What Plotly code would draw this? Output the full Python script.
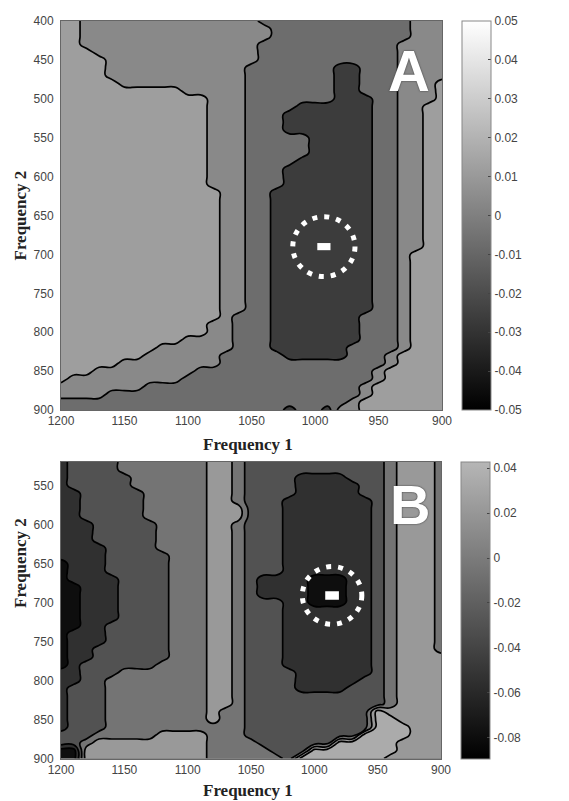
import plotly.graph_objects as go

# ---------------- data ----------------
freq1 = [1200, 1190, 1180, 1170, 1160, 1150, 1140, 1130, 1120, 1110, 1100,
         1090, 1080, 1070, 1060, 1050, 1040, 1030, 1020, 1010, 1000,
         990, 980, 970, 960, 950, 940, 930, 920, 910, 900]

freq2_a = [400, 410, 420, 430, 440, 450, 460, 470, 480, 490, 500,
           510, 520, 530, 540, 550, 560, 570, 580, 590, 600,
           610, 620, 630, 640, 650, 660, 670, 680, 690, 700,
           710, 720, 730, 740, 750, 760, 770, 780, 790, 800,
           810, 820, 830, 840, 850, 860, 870, 880, 890, 900]

freq2_b = [520, 530, 540, 550, 560, 570, 580, 590, 600, 610,
           620, 630, 640, 650, 660, 670, 680, 690, 700, 710,
           720, 730, 740, 750, 760, 770, 780, 790, 800, 810,
           820, 830, 840, 850, 860, 870, 880, 890, 900]

# value of each contour band (panel A) and run-length rows of bands
levels_a = {"D": -0.02, "M": -0.01, "B": 0.0, "L": 0.01}
rows_a = [
    "2L 14B 12M 3B", "2L 15B 11M 3B", "2L 15B 11M 3B", "2L 14B 11M 4B",
    "3L 13B 11M 4B", "4L 12B 11M 4B",
    "4L 11B 7M 2D 3M 4B", "4L 11B 7M 2D 3M 4B",
    "5L 10B 7M 2D 3M 3B 1L", "10L 5B 7M 2D 3M 3B 1L",
    "12L 3B 7M 3D 2M 3B 1L", "12L 3B 4M 6D 2M 2B 2L",
    "12L 3B 3M 7D 2M 2B 2L", "12L 3B 3M 7D 2M 2B 2L", "12L 3B 3M 7D 2M 2B 2L",
    "12L 3B 5M 5D 2M 2B 2L", "12L 3B 5M 5D 2M 2B 2L", "12L 3B 5M 5D 2M 2B 2L",
    "12L 3B 4M 6D 2M 2B 2L",
    "12L 3B 3M 7D 2M 2B 2L", "12L 3B 3M 7D 2M 2B 2L", "12L 3B 3M 7D 2M 2B 2L",
    "13L 2B 2M 8D 2M 2B 2L", "13L 2B 2M 8D 2M 2B 2L", "13L 2B 2M 8D 2M 2B 2L",
    "13L 2B 2M 8D 2M 2B 2L", "13L 2B 2M 8D 2M 2B 2L", "13L 2B 2M 8D 2M 2B 2L",
    "13L 2B 2M 8D 2M 2B 2L", "13L 2B 2M 8D 2M 2B 2L",
    "13L 2B 2M 8D 2M 1B 3L", "13L 2B 2M 8D 2M 1B 3L", "13L 2B 2M 8D 2M 1B 3L",
    "13L 2B 2M 8D 2M 1B 3L", "13L 2B 2M 8D 2M 1B 3L", "13L 2B 2M 8D 2M 1B 3L",
    "13L 2B 2M 8D 2M 1B 3L", "13L 2B 2M 8D 2M 1B 3L",
    "13L 1B 3M 7D 3M 1B 3L",
    "12L 2B 3M 7D 3M 1B 3L", "12L 2B 3M 7D 3M 1B 3L",
    "10L 4B 3M 7D 3M 1B 3L",
    "8L 6B 3M 6D 4M 1B 3L",
    "7L 6B 5M 5D 3M 1B 4L",
    "5L 8B 13M 1B 4L",
    "3L 8B 14M 1B 5L",
    "1L 9B 15M 1B 5L",
    "7B 17M 1B 6L",
    "4B 20M 1B 6L",
    "23M 1B 7L",
    "18M 1D 2M 1D 2B 7L",
]

levels_b = {"K": -0.08, "D": -0.06, "M": -0.04, "N": -0.02, "L": 0.0, "W": 0.02}
rows_b = [
    "1D 4M 7N 2L 1N 11M 1N 3L 1N",
    "1D 4M 7N 2L 1N 11M 1N 3L 1N",
    "1D 5M 6N 2L 1N 4M 4D 3M 1N 3L 1N",
    "1D 5M 6N 2L 1N 4M 5D 2M 1N 3L 1N",
    "2D 5M 5N 2L 1N 4M 5D 2M 1N 3L 1N",
    "2D 5M 5N 2L 1N 3M 7D 1M 1N 3L 1N",
    "2D 5M 5N 3L 3M 7D 1M 1N 3L 1N",
    "2D 5M 5N 3L 3M 7D 1M 1N 3L 1N",
    "3D 5M 4N 2L 1N 3M 7D 1M 1N 3L 1N",
    "3D 5M 4N 2L 1N 3M 7D 1M 1N 3L 1N",
    "3D 5M 4N 2L 1N 3M 7D 1M 1N 3L 1N",
    "4D 4M 4N 2L 1N 3M 7D 1M 1N 3L 1N",
    "4D 5M 3N 2L 1N 3M 7D 1M 1N 3L 1N",
    "1K 3D 5M 3N 2L 1N 3M 7D 1M 1N 3L 1N",
    "1K 3D 5M 3N 2L 1N 3M 7D 1M 1N 3L 1N",
    "1K 4D 4M 3N 2L 1N 1M 4D 3K 2D 1M 1N 3L 1N",
    "2K 3D 4M 3N 2L 1N 1M 4D 3K 2D 1M 1N 3L 1N",
    "2K 3D 4M 3N 2L 1N 1M 4D 3K 2D 1M 1N 3L 1N",
    "2K 3D 4M 3N 2L 1N 3M 2D 3K 2D 1M 1N 3L 1N",
    "2K 3D 4M 3N 2L 1N 3M 7D 1M 1N 3L 1N",
    "2K 3D 4M 3N 2L 1N 3M 7D 1M 1N 3L 1N",
    "2K 2D 5M 3N 2L 1N 3M 7D 1M 1N 3L 1N",
    "1K 3D 5M 3N 2L 1N 3M 7D 1M 1N 3L 1N",
    "1K 3D 5M 3N 2L 1N 3M 7D 1M 1N 3L 1N",
    "1K 2D 6M 3N 2L 1N 3M 7D 1M 1N 3L 1N",
    "1K 2D 6M 3N 2L 1N 3M 7D 1M 1N 4L",
    "1K 1D 6M 4N 2L 1N 3M 7D 1M 1N 4L",
    "2D 3M 7N 2L 1N 4M 6D 1M 1N 4L",
    "2D 2M 8N 2L 1N 4M 5D 2M 1N 4L",
    "1D 3M 8N 2L 1N 4M 4D 3M 1N 4L",
    "1D 3M 8N 2L 1N 11M 1N 4L",
    "1D 3M 8N 2L 1N 11M 1N 4L",
    "1D 3M 8N 1L 2N 10M 1W 5L",
    "1D 3M 8N 1L 2N 10M 2W 4L",
    "1D 3M 11N 10M 3W 3L",
    "3M 5N 4L 3N 9M 4W 3L",
    "2M 1N 9L 4N 6M 5W 4L",
    "2K 10L 5N 3M 7W 4L",
    "2K 10L 6N 1M 7W 5L",
]

# band fill colours (grey levels)
fills_a = ["#3c3c3c", "#6d6d6d", "#898989", "#9e9e9e"]
fills_b = ["#0e0e0e", "#303030", "#525252", "#747474", "#999999", "#ababab"]

cbar_a_ticks = [0.05, 0.04, 0.03, 0.02, 0.01, 0, -0.01, -0.02, -0.03, -0.04, -0.05]
cbar_a_text = ["0.05", "0.04", "0.03", "0.02", "0.01", "0", "-0.01", "-0.02", "-0.03", "-0.04", "-0.05"]
cbar_b_ticks = [0.04, 0.02, 0, -0.02, -0.04, -0.06, -0.08]
cbar_b_text = ["0.04", "0.02", "0", "-0.02", "-0.04", "-0.06", "-0.08"]
cbar_a_range = (-0.05, 0.05)
cbar_b_range = (-0.0896, 0.0428)

x_ticks = [1200, 1150, 1100, 1050, 1000, 950, 900]
y_ticks_a = [400, 450, 500, 550, 600, 650, 700, 750, 800, 850, 900]
y_ticks_b = [550, 600, 650, 700, 750, 800, 850, 900]

# marked minimum (dotted ring + white box): centre and half sizes in data units
ring_a = dict(cx=993, cy=690, rx=24.5, ry=38.5, bx=5.2, by=4.6)
ring_b = dict(cx=986, cy=691, rx=23.5, ry=37.0, bx=5.4, by=5.4)


def expand(rle, values):
    row = []
    for run in rle.split():
        row += [values[run[-1]]] * int(run[:-1])
    assert len(row) == len(freq1), (rle, len(row))
    return row


z_a = [expand(r, levels_a) for r in rows_a]
z_b = [expand(r, levels_b) for r in rows_b]
assert len(z_a) == len(freq2_a) and len(z_b) == len(freq2_b)

W, H = 569, 801


def px(v):
    return v / W


def py(v):
    return 1 - v / H


tick_font = dict(family="Liberation Sans, Arial, sans-serif", size=12, color="#444")
title_font = dict(family="Liberation Serif, Times New Roman, serif", size=17,
                  color="#222", weight="bold")


def stops(colors):
    n = len(colors) - 1
    return [[i / n, c] for i, c in enumerate(colors)]


def cbar(left, top, bottom, ticks, text):
    return dict(x=px(left), xanchor="left", xpad=0,
                y=py(top), yanchor="top", ypad=0,
                len=(bottom - top) / H, lenmode="fraction",
                thickness=29, thicknessmode="pixels",
                outlinewidth=1, outlinecolor="#888",
                tickmode="array", tickvals=ticks, ticktext=text,
                ticks="inside", ticklen=3, tickcolor="#444",
                tickfont=tick_font)


fig = go.Figure()

# panel A
fig.add_trace(go.Heatmap(x=freq1, y=freq2_a, z=z_a, zmin=cbar_a_range[0], zmax=cbar_a_range[1],
                         colorscale=[[0, "#000000"], [1, "#ffffff"]], hoverinfo="skip",
                         colorbar=cbar(462, 21, 410, cbar_a_ticks, cbar_a_text),
                         xaxis="x", yaxis="y"))
fig.add_trace(go.Contour(x=freq1, y=freq2_a, z=z_a, autocontour=False,
                         contours=dict(start=-0.015, end=0.005, size=0.01, coloring="fill"),
                         colorscale=stops(fills_a), showscale=False,
                         line=dict(color="black", width=1.7, smoothing=1.3),
                         hoverinfo="skip", xaxis="x", yaxis="y"))
# panel B
fig.add_trace(go.Heatmap(x=freq1, y=freq2_b, z=z_b, zmin=cbar_b_range[0], zmax=cbar_b_range[1],
                         colorscale=[[0, "#000000"], [1, "#b6b6b6"]], hoverinfo="skip",
                         colorbar=cbar(461, 462, 758.5, cbar_b_ticks, cbar_b_text),
                         xaxis="x2", yaxis="y2"))
fig.add_trace(go.Contour(x=freq1, y=freq2_b, z=z_b, autocontour=False,
                         contours=dict(start=-0.07, end=0.01, size=0.02, coloring="fill"),
                         colorscale=stops(fills_b), showscale=False,
                         line=dict(color="black", width=1.7, smoothing=1.3),
                         hoverinfo="skip", xaxis="x2", yaxis="y2"))

shapes = []
for ring, xr, yr in ((ring_a, "x", "y"), (ring_b, "x2", "y2")):
    shapes.append(dict(type="circle", xref=xr, yref=yr,
                       x0=ring["cx"] + ring["rx"], x1=ring["cx"] - ring["rx"],
                       y0=ring["cy"] - ring["ry"], y1=ring["cy"] + ring["ry"],
                       line=dict(color="white", width=5, dash="5px,7px")))
    shapes.append(dict(type="rect", xref=xr, yref=yr,
                       x0=ring["cx"] + ring["bx"], x1=ring["cx"] - ring["bx"],
                       y0=ring["cy"] - ring["by"], y1=ring["cy"] + ring["by"],
                       line=dict(width=0), fillcolor="white"))

axis_common = dict(showgrid=False, zeroline=False, showline=True, mirror=True,
                   linecolor="#666", linewidth=1, ticks="", tickfont=tick_font,
                   automargin=False)

annotations = [
    dict(text="Frequency 1", x=px(248), y=py(444), font=title_font),
    dict(text="Frequency 1", x=px(248), y=py(790), font=title_font),
    dict(text="Frequency 2", x=px(20), y=py(215.5), textangle=-90, font=title_font),
    dict(text="Frequency 2", x=px(20), y=py(563), textangle=-90, font=title_font),
    dict(text="A", x=px(408.5), y=py(70),
         font=dict(family="Liberation Sans, Arial, sans-serif", size=58, color="white",
                   weight="bold", shadow="0 0 2px #444, 0 0 1px #444")),
    dict(text="B", x=px(409.5), y=py(504),
         font=dict(family="Liberation Sans, Arial, sans-serif", size=56, color="white",
                   weight="bold", shadow="0 0 2px #444, 0 0 1px #444")),
]
for a in annotations:
    a.update(xref="paper", yref="paper", showarrow=False, xanchor="center", yanchor="middle")

fig.update_layout(
    width=W, height=H, margin=dict(l=0, r=0, t=0, b=0),
    paper_bgcolor="white", plot_bgcolor="white", showlegend=False,
    xaxis=dict(axis_common, domain=[px(61), px(442)], range=[1200, 900], anchor="y",
               tickmode="array", tickvals=x_ticks),
    yaxis=dict(axis_common, domain=[py(410), py(21)], range=[900, 400], anchor="x",
               tickmode="array", tickvals=y_ticks_a, ticklabelstandoff=4),
    xaxis2=dict(axis_common, domain=[px(61), px(441)], range=[1200, 900], anchor="y2",
                tickmode="array", tickvals=x_ticks),
    yaxis2=dict(axis_common, domain=[py(758.5), py(462)], range=[900, 520], anchor="x2",
                tickmode="array", tickvals=y_ticks_b, ticklabelstandoff=4),
    shapes=shapes, annotations=annotations,
)

fig.write_html("out.html", config={"displayModeBar": False},
               post_script="document.body.style.margin='0px';")
